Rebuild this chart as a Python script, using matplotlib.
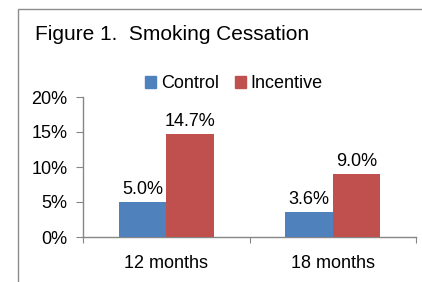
import numpy as np
import matplotlib.pyplot as plt
from matplotlib.patches import Rectangle, Patch

plt.rcParams['font.family'] = ['Liberation Sans', 'DejaVu Sans']

categories = ['12 months', '18 months']
series_names = ['Control', 'Incentive']
control = [5.0, 3.6]
incentive = [14.7, 9.0]
colors = ['#4F81BD', '#C0504D']
axis_gray = '#868686'

fig = plt.figure(figsize=(4.22, 2.82), dpi=100)
ax = fig.add_axes([83 / 422, 1 - 237 / 282, (416 - 83) / 422, (237 - 97) / 282])

x = np.arange(len(categories))
w = 0.285
for vals, off, c in [(control, -w / 2, colors[0]), (incentive, w / 2, colors[1])]:
    bars = ax.bar(x + off, vals, width=w, color=c, zorder=3)
    for b, v in zip(bars, vals):
        ax.annotate(f'{v:.1f}%', (b.get_x() + b.get_width() / 2, v),
                    xytext=(0, 3), textcoords='offset points',
                    ha='center', va='bottom', fontsize=13)

ax.set_xlim(-0.5, 1.5)
ax.set_ylim(0, 20)
ax.set_yticks([0, 5, 10, 15, 20])
ax.set_yticklabels([f'{t}%' for t in [0, 5, 10, 15, 20]], fontsize=13)
ax.set_xticks([-0.5, 0.5, 1.5], minor=False)
ax.set_xticklabels(['', '', ''])
ax.set_xticks(x, minor=True)
ax.set_xticklabels(categories, minor=True, fontsize=13)
ax.tick_params(axis='x', which='major', length=4, color=axis_gray, direction='out')
ax.tick_params(axis='x', which='minor', length=0, pad=13)
ax.tick_params(axis='y', length=5, color=axis_gray, direction='out', pad=6)

for s in ['top', 'right']:
    ax.spines[s].set_visible(False)
for s in ['left', 'bottom']:
    ax.spines[s].set_color(axis_gray)
    ax.spines[s].set_linewidth(1.0)

fig.text(35 / 422, 1 - 34 / 282, 'Figure 1.  Smoking Cessation',
         fontsize=15, ha='left', va='center')

handles = [Patch(color=c) for c in colors]
fig.legend(handles, series_names, loc='center', ncol=2,
           bbox_to_anchor=(234 / 422, 1 - 84 / 282), frameon=False,
           fontsize=13, handlelength=0.6, handleheight=0.6,
           handletextpad=0.25, columnspacing=0.9)

fig.patches.append(Rectangle((18 / 422, -0.1), 1.2, 1 - 9 / 282 + 0.1,
                             transform=fig.transFigure, fill=False,
                             edgecolor='#8C8C8C', linewidth=1.0))

fig.savefig('out.png', dpi=100)
